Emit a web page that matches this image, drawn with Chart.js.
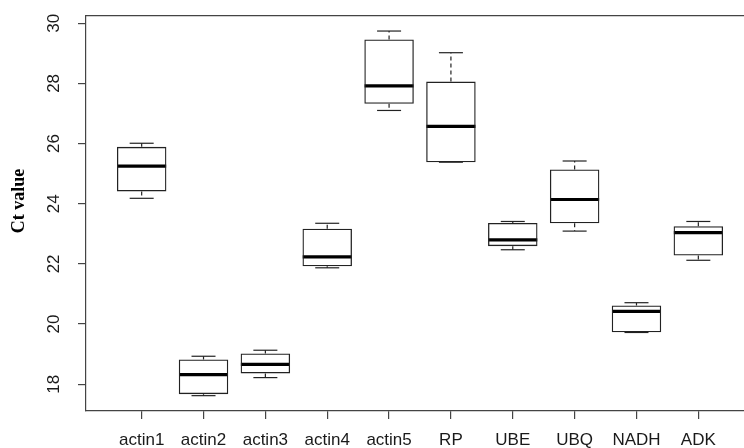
<!DOCTYPE html>
<html>
<head>
<meta charset="utf-8">
<script src="https://cdn.jsdelivr.net/npm/chart.js@4.4.1/dist/chart.umd.min.js"></script>
<style>
  html, body { margin: 0; padding: 0; background: #fff; overflow: hidden; }
  #wrap { width: 744px; height: 448px; overflow: hidden; }
</style>
</head>
<body>
<div id="wrap"><canvas id="ctChart" width="754" height="448"></canvas></div>
<script>
// Boxplot gegevens
const genen = ["actin1", "actin2", "actin3", "actin4", "actin5", "RP", "UBE", "UBQ", "NADH", "ADK"];
const minima = [24.18, 17.62, 18.22, 21.87, 27.10, 25.38, 22.47, 23.09, 19.72, 22.12];
const kwartiel1 = [24.41, 17.67, 18.36, 21.92, 27.32, 25.38, 22.59, 23.35, 19.73, 22.28];
const medianen = [25.25, 18.32, 18.66, 22.23, 27.92, 26.57, 22.80, 24.14, 20.42, 23.04];
const kwartiel3 = [25.89, 18.82, 19.02, 23.17, 29.46, 28.06, 23.36, 25.14, 20.62, 23.25];
const maxima = [26.01, 18.93, 19.13, 23.35, 29.74, 29.02, 23.41, 25.42, 20.71, 23.41];
const yTicks = [18, 20, 22, 24, 26, 28, 30];
const yTitel = "Ct value";

const lijnKleur = "#222";
const asKleur = "#444";

// snorharen als losse stukjes lijn (null = onderbreking)
const snorPunten = [];
genen.forEach((g, i) => {
  snorPunten.push({ x: i + 1, y: kwartiel3[i] }, { x: i + 1, y: maxima[i] }, { x: i + 1, y: null });
  snorPunten.push({ x: i + 1, y: kwartiel1[i] }, { x: i + 1, y: minima[i] }, { x: i + 1, y: null });
});

const punten = (arr) => arr.map((v, i) => ({ x: i + 1, y: v }));

// y-as titel iets boven het midden, zoals in R
const titelPlugin = {
  id: "yTitel",
  afterDraw(chart) {
    const ctx = chart.ctx;
    ctx.save();
    ctx.translate(19, 201);
    ctx.rotate(-Math.PI / 2);
    ctx.font = "bold 18px 'Liberation Serif', 'Times New Roman', serif";
    ctx.fillStyle = "#000";
    ctx.textAlign = "center";
    ctx.textBaseline = "middle";
    ctx.fillText(yTitel, 0, 0);
    ctx.restore();
  },
};

Chart.defaults.font.family = "'Liberation Sans', Arial, sans-serif";
Chart.defaults.color = "#1a1a1a";

new Chart(document.getElementById("ctChart"), {
  type: "bar",
  plugins: [titelPlugin],
  data: {
    datasets: [
      {
        type: "line",
        label: "snor",
        data: snorPunten,
        borderColor: lijnKleur,
        borderWidth: 1.2,
        borderDash: [4, 3],
        pointRadius: 0,
        spanGaps: false,
        fill: false,
      },
      {
        type: "bar",
        label: "box",
        data: genen.map((g, i) => ({ x: i + 1, y: [kwartiel1[i], kwartiel3[i]] })),
        backgroundColor: "rgba(255,255,255,0)",
        borderColor: lijnKleur,
        borderWidth: 1.3,
        borderSkipped: false,
        categoryPercentage: 0.8,
        barPercentage: 1,
      },
      {
        type: "line",
        label: "max",
        data: punten(maxima),
        showLine: false,
        pointStyle: "line",
        pointRadius: 12,
        pointBorderWidth: 1.2,
        pointBorderColor: lijnKleur,
      },
      {
        type: "line",
        label: "min",
        data: punten(minima),
        showLine: false,
        pointStyle: "line",
        pointRadius: 12,
        pointBorderWidth: 1.2,
        pointBorderColor: lijnKleur,
      },
      {
        type: "line",
        label: "mediaan",
        data: punten(medianen),
        showLine: false,
        pointStyle: "line",
        pointRadius: 24.5,
        pointBorderWidth: 3.2,
        pointBorderColor: "#000",
      },
    ],
  },
  options: {
    responsive: false,
    animation: false,
    events: [],
    layout: { padding: 0, autoPadding: false },
    plugins: { legend: { display: false }, tooltip: { enabled: false } },
    scales: {
      x: {
        type: "linear",
        position: "bottom",
        min: 0.1,
        max: 10.9,
        offset: false,
        afterBuildTicks: (s) => { s.ticks = genen.map((g, i) => ({ value: i + 1 })); },
        afterFit: (s) => { s.height = 37; s.paddingLeft = 0; s.paddingRight = 0; },
        ticks: {
          autoSkip: false,
          maxRotation: 0,
          padding: 11,
          font: { size: 17 },
          callback: (v) => genen[v - 1],
        },
        grid: { display: true, offset: false, drawOnChartArea: false, tickLength: 8, color: asKleur, lineWidth: 1.2 },
        border: { display: true, color: asKleur, width: 1.2 },
      },
      xBoven: {
        type: "linear",
        position: "top",
        display: true,
        afterFit: (s) => { s.height = 16; s.paddingLeft = 0; s.paddingRight = 0; },
        ticks: { display: false },
        grid: { display: false },
        border: { display: true, color: asKleur, width: 1.2 },
      },
      y: {
        type: "linear",
        min: 17.11,
        max: 30.24,
        afterBuildTicks: (s) => { s.ticks = yTicks.map((v) => ({ value: v })); },
        afterFit: (s) => { s.width = 86; s.paddingTop = 0; s.paddingBottom = 0; },
        ticks: {
          minRotation: 90,
          maxRotation: 90,
          crossAlign: "center",
          padding: 14,
          font: { size: 17 },
        },
        grid: { display: true, drawOnChartArea: false, tickLength: 8, color: asKleur, lineWidth: 1.2 },
        border: { display: true, color: asKleur, width: 1.2 },
      },
    },
  },
});
</script>
</body>
</html>
